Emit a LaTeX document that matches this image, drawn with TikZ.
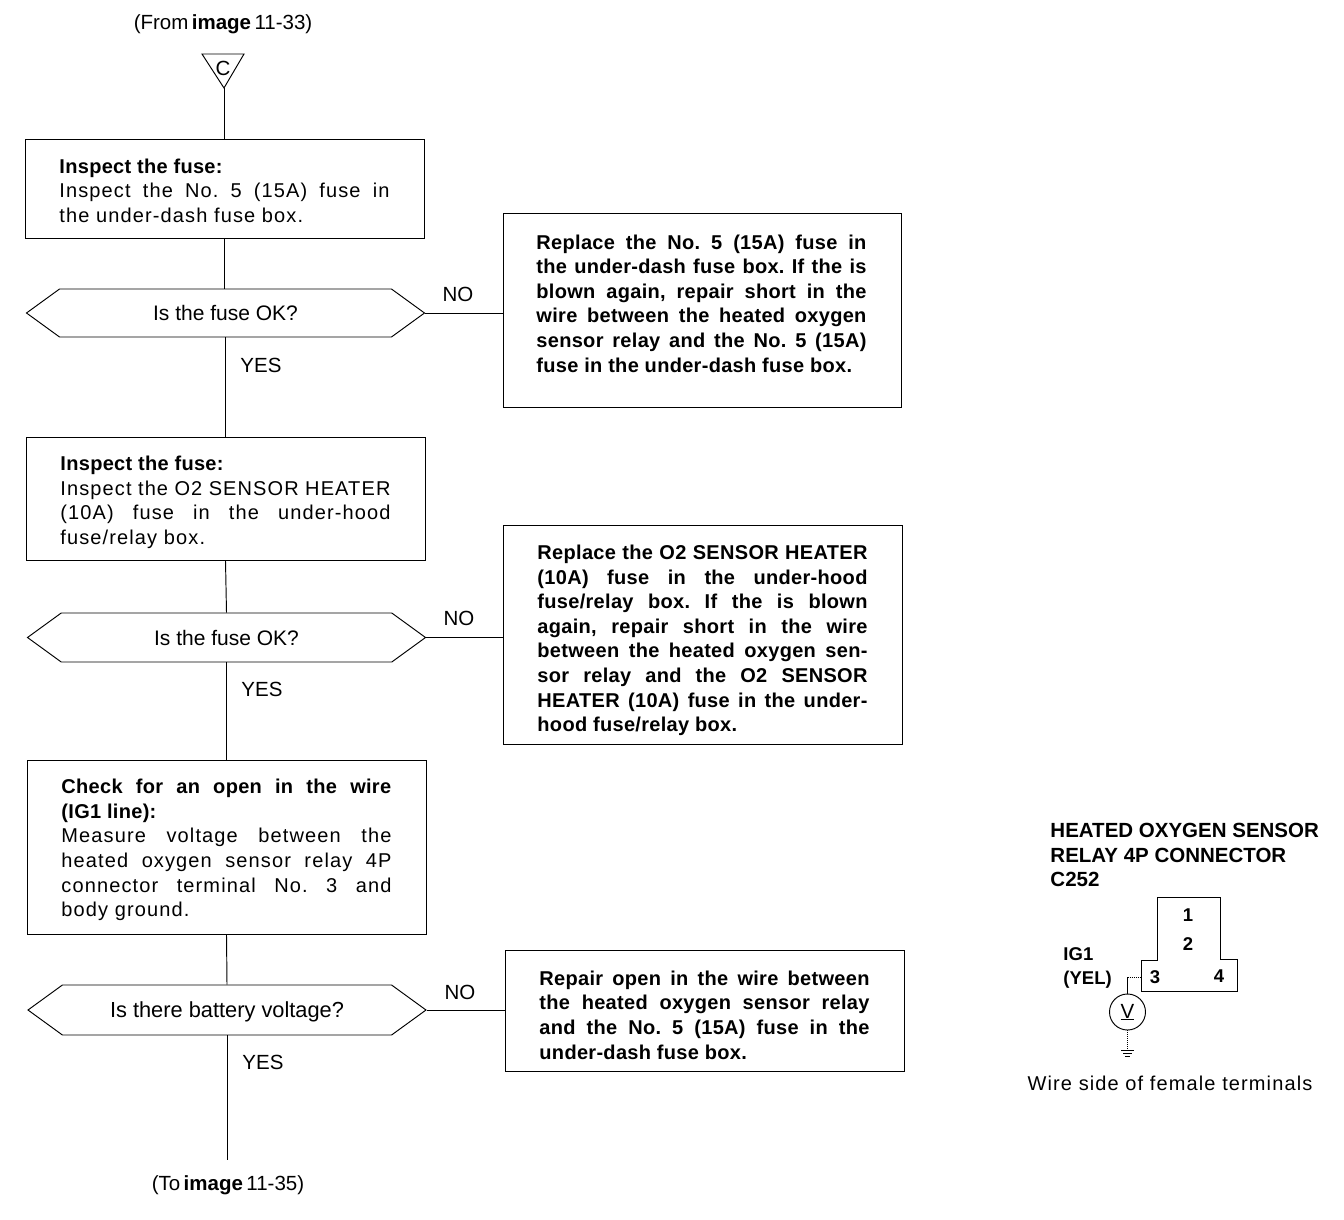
\documentclass[tikz,border=0pt]{standalone}
\usepackage{fontspec}
\setmainfont{Liberation Sans}
\newfontfamily\bodyf[LetterSpace=5.6,BoldFeatures={LetterSpace=1.5}]{Liberation Sans}
\newfontfamily\boldf[LetterSpace=1.5]{Liberation Sans Bold}
\usetikzlibrary{shapes.symbols}
\newcommand{\jl}[1]{\makebox[330pt][s]{#1}}
\tikzset{
  x=1pt,y=-1pt,
  every path/.style={line width=.95pt},
  hexn/.style={draw,signal,signal to=west and east,signal pointer angle=72,inner sep=0pt,minimum width=398pt,minimum height=48pt,font=\frenchspacing\fontsize{21}{24}\selectfont},
  body/.style={anchor=west,inner sep=0pt,align=left,font=\frenchspacing\fontsize{20}{24.6}\selectfont\bodyf},
  boldbody/.style={anchor=west,inner sep=0pt,align=left,font=\frenchspacing\fontsize{20}{24.6}\selectfont\boldf},
  lab/.style={inner sep=0pt,font=\fontsize{20.5}{24}\selectfont},
  refl/.style={inner sep=0pt,font=\fontsize{20.5}{24}\selectfont},
  conn/.style={inner sep=0pt,font=\fontsize{20.5}{24.6}\selectfont\bfseries},
  digit/.style={inner sep=0pt,font=\fontsize{18.5}{24.6}\selectfont\bfseries},
}
\begin{document}
\begin{tikzpicture}
\useasboundingbox (0,0) rectangle (1344,1220);
% header
\node[refl] (from) at (223,24) {(From\,\textbf{image}\,11-33)};
\coordinate (tl) at (202,54); \coordinate (tr) at (244,54); \coordinate (tip) at (224,88);
\draw (tl) -- (tr) -- (tip) -- cycle;
\node[lab] (c) at (223,68) {C};
% boxes left
\node[draw,minimum width=399pt,minimum height=99pt,inner sep=0pt] (a) at (224.5,188.5) {};
\node[hexn] (h1) at (225.5,313) {Is the fuse OK?};
\node[draw,minimum width=399pt,minimum height=123pt,inner sep=0pt] (b) at (225.5,498.5) {};
\node[hexn,minimum height=49pt] (h2) at (226.5,637.5) {Is the fuse OK?};
\node[draw,minimum width=399pt,minimum height=174pt,inner sep=0pt] (cc) at (226.5,847) {};
\node[hexn,minimum height=50pt] (h3) at (227,1010) {};
\node[inner sep=0pt,font=\fontsize{21.8}{24}\selectfont] (th3) at (227,1012) {Is there battery voltage?};
% boxes right
\node[draw,minimum width=398pt,minimum height=194pt,inner sep=0pt] (r1) at (702,310) {};
\node[draw,minimum width=399pt,minimum height=219pt,inner sep=0pt] (r2) at (702.5,634.5) {};
\node[draw,minimum width=399pt,minimum height=121pt,inner sep=0pt] (r3) at (704.5,1010.5) {};
% texts
\node[body] (ta) at (59,190.5) {\textbf{Inspect the fuse:}\\\jl{Inspect the No. 5 (15A) fuse in}\\the under-dash fuse box.};
\node[body] (tb) at (60,502.5) {\textbf{Inspect the fuse:}\\\jl{Inspect the O2 SENSOR HEATER}\\\jl{(10A) fuse in the under-hood}\\fuse/relay box.};
\node[body] (tc) at (61,850) {\jl{\textbf{Check for an open in the wire}}\\\textbf{(IG1 line):}\\\jl{Measure voltage between the}\\\jl{heated oxygen sensor relay 4P}\\\jl{connector terminal No. 3 and}\\body ground.};
\node[boldbody] (t1) at (536,303.5) {\jl{Replace the No. 5 (15A) fuse in}\\\jl{the under-dash fuse box. If the is}\\\jl{blown again, repair short in the}\\\jl{wire between the heated oxygen}\\\jl{sensor relay and the No. 5 (15A)}\\fuse in the under-dash fuse box.};
\node[boldbody] (t2) at (537,640.5) {\jl{Replace the O2 SENSOR HEATER}\\\jl{(10A) fuse in the under-hood}\\\jl{fuse/relay box. If the is blown}\\\jl{again, repair short in the wire}\\\jl{between the heated oxygen sen-}\\\jl{sor relay and the O2 SENSOR}\\\jl{HEATER (10A) fuse in the under-}\\hood fuse/relay box.};
\node[boldbody] (t3) at (539,1015) {\jl{Repair open in the wire between}\\\jl{the heated oxygen sensor relay}\\\jl{and the No. 5 (15A) fuse in the}\\under-dash fuse box.};
% labels
\node[lab] (no1) at (458,294) {NO};
\node[lab] (no2) at (459,618) {NO};
\node[lab] (no3) at (460,992) {NO};
\node[lab] (y1) at (261,365) {YES};
\node[lab] (y2) at (262,689) {YES};
\node[lab] (y3) at (263,1062) {YES};
\node[refl] (to) at (228,1185) {(To\,\textbf{image}\,11-35)};
\coordinate (end) at (227,1160);
% connectors
\draw (tip) -- (tip |- a.north);
\draw (a.south) -- (h1.north -| a.south);
\draw (h1.south) -- (b.north);
\draw (b.south) -- (h2.north);
\draw (h2.south) -- (cc.north);
\draw (cc.south) -- (h3.north);
\draw (h3.south) -- (end);
\draw (h1.east) -- (h1.east -| r1.west);
\draw (h2.east) -- (h2.east -| r2.west);
\draw (h3.east) -- (h3.east -| r3.west);
% connector diagram
\node[conn,anchor=west,align=left] (title) at (1050,855) {HEATED OXYGEN SENSOR\\RELAY 4P CONNECTOR\\C252};
\draw (1157,960) -- (1157,897) -- (1220,897) -- (1220,959) -- (1237,959) -- (1237,991) -- (1141,991) -- (1141,960) -- cycle;
\node[digit] (n1) at (1188,915) {1};
\node[digit] (n2) at (1188,944) {2};
\node[digit] (n3) at (1155,977) {3};
\node[digit] (n4) at (1219,976) {4};
\node[digit,anchor=west,align=left] (ig) at (1063,968) {IG1\\(YEL)};
\node[draw,circle,minimum size=36pt,inner sep=0pt,lab] (v) at (1127.5,1012) {\underline{V}};
\coordinate (w3) at (1141,977);
\coordinate (wc) at (1127.5,977);
\coordinate (g) at (1127.5,1050);
\draw[densely dotted] (w3) -- (wc);
\draw (wc) -- (v.north);
\draw[densely dotted] (v.south) -- (g);
\draw[line width=.8pt] (1121,1050) -- (1134,1050) (1123,1053) -- (1132,1053) (1125,1056) -- (1130,1056);
\node[inner sep=0pt,font=\fontsize{20}{24}\selectfont\bodyf] (ws) at (1170,1083) {Wire side of female terminals};
\end{tikzpicture}
\end{document}
